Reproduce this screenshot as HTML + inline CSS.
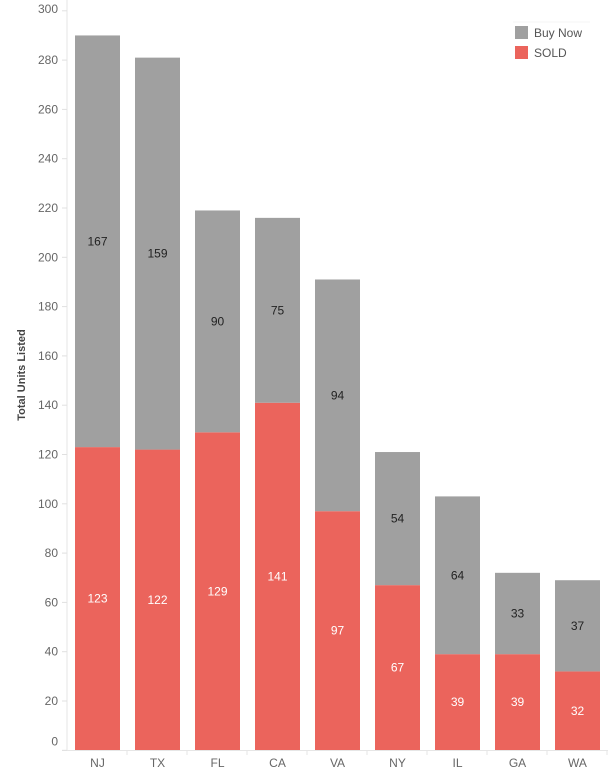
<!DOCTYPE html>
<html><head><meta charset="utf-8"><style>
html,body{margin:0;padding:0;background:#fff;}
svg{display:block;font-family:"Liberation Sans",Arial,sans-serif;}
</style></head><body>
<svg id="chart" width="608" height="774">
<g id="grid"></g><g id="bars"></g><g id="axes"></g>
<text transform="translate(25,375) rotate(-90)" text-anchor="middle" font-size="11" font-weight="bold" fill="#444">Total Units Listed</text>
<g>
<line x1="513" y1="22" x2="590" y2="22" stroke="#f4f4f4"/>
<rect x="515" y="26" width="13" height="13" fill="#a0a0a0"/>
<text x="534" y="37" font-size="12" fill="#555">Buy Now</text>
<rect x="515" y="46" width="13" height="13" fill="#eb645c"/>
<text x="534" y="57" font-size="12" fill="#555">SOLD</text>
</g>
</svg>
<script>
const categories=["NJ","TX","FL","CA","VA","NY","IL","GA","WA"];
const sold=[123,122,129,141,97,67,39,39,32];
const buyNow=[167,159,90,75,94,54,64,33,37];
const yTicks=[0,20,40,60,80,100,120,140,160,180,200,220,240,260,280,300];
const NS="http://www.w3.org/2000/svg";
const y0=750.3,k=2.465;
function y(v){return y0-v*k;}
function xb(i){return 67+i*60+8;}
function mk(tag,attrs,parent,txt){const e=document.createElementNS(NS,tag);for(const a in attrs)e.setAttribute(a,attrs[a]);if(txt!==undefined)e.textContent=txt;parent.appendChild(e);return e;}
const gb=document.getElementById('bars'),ga=document.getElementById('axes');
mk('line',{x1:67,y1:0,x2:67,y2:750,stroke:'#e6e6e6'},ga);
mk('line',{x1:62,y1:750.5,x2:608,y2:750.5,stroke:'#e6e6e6'},ga);
yTicks.forEach(t=>{
  const yy=y(t);
  mk('line',{x1:62,y1:yy,x2:67,y2:yy,stroke:'#e0e0e0'},ga);
  let ly=yy+4; if(t===0)ly=yy-5; if(t===300)ly=yy+2;
  const tx=mk('text',{x:58,y:ly,'text-anchor':'end','font-size':12,fill:'#666'},ga,String(t));
  
  
});
categories.forEach((c,i)=>{
  const x=xb(i);
  const r1=mk('rect',{x:x,y:y(sold[i]),width:45,height:sold[i]*k,fill:'#eb645c'},gb);
  
  
  const tot=sold[i]+buyNow[i];
  const r2=mk('rect',{x:x,y:y(tot),width:45,height:buyNow[i]*k,fill:'#a0a0a0'},gb);
  
  
  const l1=mk('text',{x:x+22.5,y:y(sold[i]/2)+4,'text-anchor':'middle','font-size':12,fill:'#fff'},gb,String(sold[i]));
  
  
  const l2=mk('text',{x:x+22.5,y:y(sold[i]+buyNow[i]/2)+4,'text-anchor':'middle','font-size':12,fill:'#222'},gb,String(buyNow[i]));
  
  
  mk('line',{x1:67+i*60+60,y1:750,x2:67+i*60+60,y2:755,stroke:'#e6e6e6'},ga);
  const xl=mk('text',{x:x+22.5,y:767,'text-anchor':'middle','font-size':12,fill:'#666'},ga,c);
  
  
});
</script>
</body></html>
